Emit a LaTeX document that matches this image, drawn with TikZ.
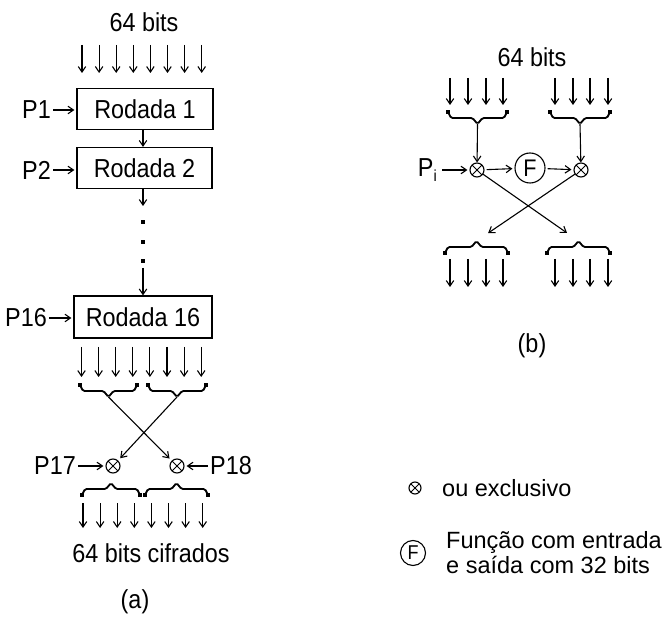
\documentclass[tikz,border=0pt]{standalone}
\usepackage{fontspec}
\setmainfont{Liberation Sans}[FakeStretch=0.9]
\newfontfamily\legendfont{Liberation Sans}
\usetikzlibrary{arrows.meta}
\newcommand{\bracedn}[4]{%
  \draw[bracel] (#1,#3) -- (#1+3,#3+6) -- ({(#1+#2)/2-5},#3+6) -- ({(#1+#2)/2},#3+12) -- ({(#1+#2)/2+5},#3+6) -- (#2-3,#3+6) -- (#2,#3);
  \fill (#1-1.8,#3-1.8) rectangle (#1+1.8,#3+1.8);
  \fill (#2-1.8,#3-1.8) rectangle (#2+1.8,#3+1.8);
  \coordinate (#4) at ({(#1+#2)/2},#3+12);}
\newcommand{\braceup}[4]{%
  \draw[bracel] (#1,#3) -- (#1+3,#3-6) -- ({(#1+#2)/2-5},#3-6) -- ({(#1+#2)/2},#3-12) -- ({(#1+#2)/2+5},#3-6) -- (#2-3,#3-6) -- (#2,#3);
  \fill (#1-1.8,#3-1.8) rectangle (#1+1.8,#3+1.8);
  \fill (#2-1.8,#3-1.8) rectangle (#2+1.8,#3+1.8);
  \coordinate (#4) at ({(#1+#2)/2},#3-12);}
\begin{document}
\begin{tikzpicture}[x=1pt,y=-1pt,
  every node/.style={font=\fontsize{26}{25}\selectfont, inner sep=0pt},
  arr/.style={-{Straight Barb[length=5.5pt,width=7.5pt,line width=1.1pt]}, line width=1.1pt},
  bracel/.style={line width=1.8pt, rounded corners=1.5pt},
  rbox/.style={draw, line width=1.2pt, minimum height=41pt},
  xorn/.style={circle, draw, line width=1.1pt, minimum size=14pt,
    path picture={\draw[line width=1pt]
      ([shift={(45:7pt)}]path picture bounding box.center) -- ([shift={(225:7pt)}]path picture bounding box.center)
      ([shift={(135:7pt)}]path picture bounding box.center) -- ([shift={(315:7pt)}]path picture bounding box.center);}},
  fnode/.style={circle, draw, line width=1.1pt},
  legtext/.style={font=\legendfont\fontsize{23.5}{25}\selectfont}]
\fill[white] (0,0) rectangle (672,617);
\useasboundingbox (0,0) rectangle (672,617);
% ---------------- (a) ----------------
\coordinate (cx) at (143,0);
\node (t64a) at (144,22) {64 bits};
\foreach \i in {0,...,7}{
  \coordinate (ta\i) at ({82+17.1*\i},45);
  \coordinate (ha\i) at ({82+17.1*\i},73);
  \draw[arr] (ta\i) -- (ha\i);
}
\node[rbox, minimum width=136pt] (r1) at (145,109) {Rodada 1\hspace{12pt}};
\node[rbox, minimum width=135pt] (r2) at (144.5,168) {Rodada 2\hspace{12pt}};
\node[rbox, minimum width=138pt, minimum height=42pt] (r16) at (143,317) {Rodada 16};
\node[anchor=east] (p1) at (51,110) {P1};
\node[anchor=east] (p2) at (51,170) {P2};
\node[anchor=east] (p16) at (47,318) {P16};
\draw[arr, shorten <=2pt, shorten >=2pt] (p1.east) -- (p1.east -| r1.west);
\draw[arr, shorten <=2pt, shorten >=2pt] (p2.east) -- (p2.east -| r2.west);
\draw[arr, shorten <=2pt, shorten >=2pt] (p16.east) -- (p16.east -| r16.west);
\draw[arr] (r1.south -| cx) -- (r2.north -| cx);
\coordinate (d0) at (143,206);
\draw[arr] (r2.south -| cx) -- (d0);
\foreach \y in {222,242,261}{
  \fill (141,\y-2) rectangle (145,\y+2);
}
\coordinate (d1) at (143,268);
\draw[arr] (d1) -- (r16.north -| cx);
\foreach \i in {0,...,7}{
  \coordinate (tb\i) at ({81.5+17.1*\i},347);
  \coordinate (hb\i) at ({81.5+17.1*\i},377);
  \draw[arr] (tb\i) -- (hb\i);
}
\bracedn{80}{137}{385}{ba1}
\bracedn{148}{206}{385}{ba2}
\node[xorn] (x17) at (113,466) {};
\node[xorn] (x18) at (177,466) {};
\draw[arr, shorten >=3pt] (ba1) -- (x18);
\draw[arr, shorten >=3pt] (ba2) -- (x17);
\node[anchor=east] (p17) at (76,466) {P17};
\node[anchor=west] (p18) at (210,466) {P18};
\draw[arr, shorten <=2pt, shorten >=2pt] (p17.east) -- (x17.west);
\draw[arr, shorten <=2pt, shorten >=2pt] (p18.west) -- (x18.east);
\braceup{82}{140}{495}{bb1}
\braceup{145}{208}{495}{bb2}
\foreach \i in {0,...,7}{
  \coordinate (tc\i) at ({83+17.1*\i},503);
  \coordinate (hc\i) at ({83+17.1*\i},528);
  \draw[arr] (tc\i) -- (hc\i);
}
\node (ca) at (151,553) {64 bits cifrados};
\node (la) at (135,602) {(a)};
% ---------------- (b) ----------------
\node (t64b) at (532,57) {64 bits};
\foreach \xx [count=\k] in {450,468,486,503,555,573,590,608}{
  \coordinate (tu\k) at (\xx,78);
  \coordinate (hu\k) at (\xx,105);
  \draw[arr] (tu\k) -- (hu\k);
  \coordinate (tl\k) at (\xx,259);
  \coordinate (hl\k) at (\xx,287);
  \draw[arr] (tl\k) -- (hl\k);
}
\bracedn{448}{507}{112}{bc1}
\bracedn{550}{610}{112}{bc2}
\node[xorn] (xl) at (477,170) {};
\node[fnode, minimum size=30pt, font=\fontsize{24}{24}\selectfont] (fn) at (530,168) {F};
\node[xorn] (xr) at (581,170) {};
\draw[arr] (bc1) -- (xl);
\draw[arr] (bc2) -- (xr);
\node[anchor=east] (pi) at (437,170) {P\raisebox{-5pt}{\fontsize{16}{16}\selectfont i}};
\draw[arr, shorten <=5pt, shorten >=2pt] (pi.east) -- (xl.west);
\draw[arr, shorten <=2pt, shorten >=2pt] (xl) -- (fn);
\draw[arr, shorten <=2pt, shorten >=2pt] (fn) -- (xr);
\braceup{445}{508}{253}{bd1}
\braceup{547}{610}{253}{bd2}
\draw[arr, shorten >=14pt] (xl) -- (bd2);
\draw[arr, shorten >=14pt] (xr) -- (bd1);
\node (lb) at (532,346) {(b)};
% ---------------- legend ----------------
\node[xorn, minimum size=12pt] (lx) at (415,488) {};
\node[anchor=west, legtext] (lxt) at (442,488) {ou exclusivo};
\node[fnode, minimum size=25pt, font=\fontsize{20}{20}\selectfont] (lf) at (413,553) {F};
\node[anchor=west, align=left, legtext] (lft) at (446,553) {Função com entrada\\e saída com 32 bits};
\end{tikzpicture}
\end{document}
